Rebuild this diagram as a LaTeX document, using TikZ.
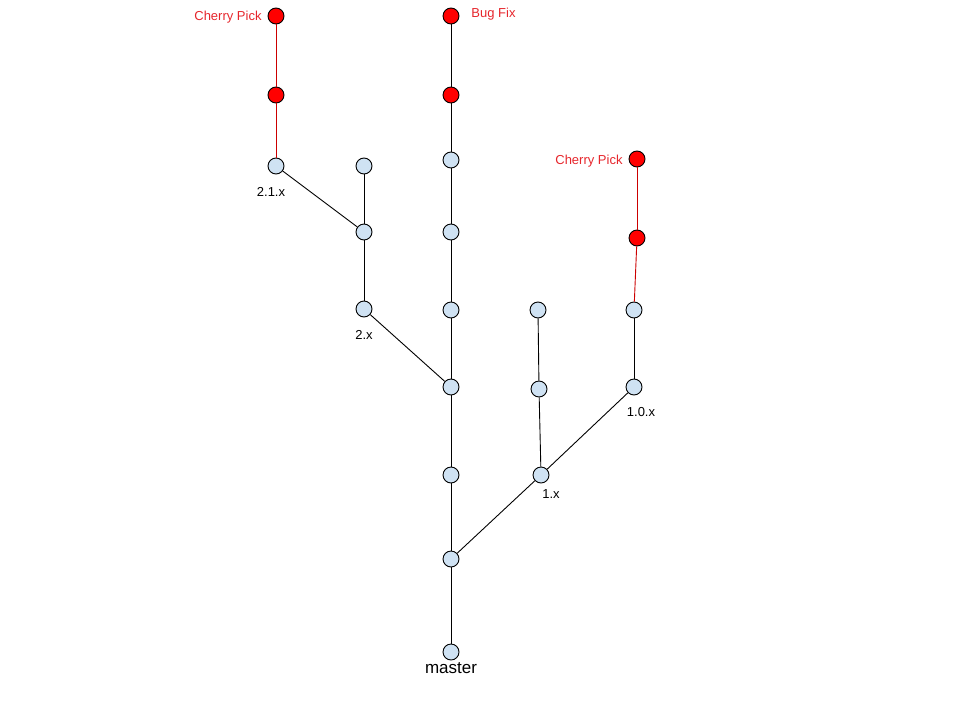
\documentclass[tikz,border=0pt]{standalone}
\usepackage{fontspec}
\setmainfont{Liberation Sans}
\usepackage{tikz}
\usetikzlibrary{positioning, calc}

\definecolor{commitblue}{HTML}{CFE2F3}
\definecolor{pickred}{HTML}{FF0000}
\definecolor{pickline}{HTML}{CC0000}
\definecolor{picktext}{HTML}{E6262C}

\tikzset{
    commit/.style={circle, draw=black, line width=0.9pt, fill=commitblue, minimum size=16pt, inner sep=0pt},
    picked/.style={commit, fill=pickred},
    tag/.style={font=\fontsize{13}{15}\selectfont, inner sep=0pt},
    redtag/.style={tag, text=picktext},
}

\begin{document}
\begin{tikzpicture}[x=1pt, y=-1pt, line width=0.9pt]
    \useasboundingbox (0,0) rectangle (960,720);
    % master
    \node (M0) [commit] at (451,652) {};
    \node (M1) [commit] at (451,559) {};
    \node (M2) [commit] at (451,475) {};
    \node (M3) [commit] at (451,387) {};
    \node (M4) [commit] at (451,310) {};
    \node (M5) [commit] at (451,232) {};
    \node (M6) [commit] at (451,160) {};
    \node (M7) [picked] at (451,95) {};
    \node (M8) [picked] at (451,16) {};
    % 2.x
    \node (A0) [commit] at (364,309) {};
    \node (A1) [commit] at (364,232) {};
    \node (A2) [commit] at (364,166) {};
    % 2.1.x
    \node (B0) [commit] at (276,166) {};
    \node (B1) [picked] at (276,95) {};
    \node (B2) [picked] at (276,16) {};
    % 1.x
    \node (C0) [commit] at (541,475) {};
    \node (C1) [commit] at (539,389) {};
    \node (C2) [commit] at (538,310) {};
    % 1.0.x
    \node (D0) [commit] at (634,387) {};
    \node (D1) [commit] at (634,310) {};
    \node (D2) [picked] at (637,238) {};
    \node (D3) [picked] at (637,159) {};

    \node (Lmaster) [font=\fontsize{17}{19}\selectfont, inner sep=0pt] at (451,668) {master};
    \node (Lfix) [redtag, anchor=west] at (471,14) {Bug Fix};
    \node (Lpick2) [redtag, anchor=east] at (262,17) {Cherry Pick};
    \node (Lpick1) [redtag, anchor=east] at (623,161) {Cherry Pick};
    \node (L21) [tag] at (271,192) {2.1.x};
    \node (L2) [tag] at (364,335) {2.x};
    \node (L10) [tag] at (641,412) {1.0.x};
    \node (L1) [tag] at (551,494) {1.x};

    \draw
        (M0) edge (M1)
        (M1) edge (M2)
        (M2) edge (M3)
        (M3) edge (M4)
        (M4) edge (M5)
        (M5) edge (M6)
        (M6) edge (M7)
        (M7) edge (M8)
        (M3) edge (A0)
        (A0) edge (A1)
        (A1) edge (A2)
        (A1) edge (B0)
        (M1) edge (C0)
        (C0) edge (C1)
        (C1) edge (C2)
        (C0) edge (D0)
        (D0) edge (D1);
    \draw [pickline]
        (B0) edge (B1)
        (B1) edge (B2)
        (D1) edge (D2)
        (D2) edge (D3);
\end{tikzpicture}
\end{document}
